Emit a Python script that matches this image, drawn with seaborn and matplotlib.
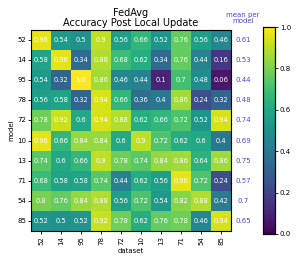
import numpy as np
import pandas as pd
import matplotlib
matplotlib.use('Agg')
import matplotlib.pyplot as plt
import seaborn as sns

# клиенты (модели и датасеты)
models = ['52', '14', '95', '78', '72', '10', '13', '71', '54', '85']
datasets = ['52', '14', '95', '78', '72', '10', '13', '71', '54', '85']

acc = [
    [0.96, 0.54, 0.5, 0.9, 0.56, 0.66, 0.52, 0.76, 0.56, 0.46],
    [0.58, 0.96, 0.34, 0.88, 0.68, 0.62, 0.34, 0.76, 0.44, 0.16],
    [0.54, 0.32, 1.0, 0.86, 0.46, 0.44, 0.1, 0.7, 0.48, 0.06],
    [0.56, 0.58, 0.32, 0.94, 0.66, 0.36, 0.4, 0.86, 0.24, 0.32],
    [0.78, 0.92, 0.6, 0.94, 0.88, 0.62, 0.66, 0.72, 0.52, 0.94],
    [0.96, 0.66, 0.84, 0.84, 0.6, 0.9, 0.72, 0.62, 0.6, 0.4],
    [0.74, 0.6, 0.66, 0.9, 0.78, 0.74, 0.84, 0.86, 0.64, 0.86],
    [0.68, 0.58, 0.58, 0.74, 0.44, 0.62, 0.56, 0.96, 0.72, 0.24],
    [0.8, 0.76, 0.84, 0.88, 0.56, 0.72, 0.54, 0.82, 0.88, 0.42],
    [0.52, 0.5, 0.52, 0.92, 0.78, 0.62, 0.76, 0.78, 0.46, 0.94],
]

df = pd.DataFrame(acc, index=models, columns=datasets)
vals = df.values
# среднее по модели без диагонали (свой датасет не считается)
row_means = (vals.sum(axis=1) - np.diag(vals)) / (vals.shape[1] - 1)
labels = np.vectorize(lambda v: str(round(v, 2)))(vals)

fig = plt.figure(figsize=(2.97, 2.63), dpi=100)
ax = fig.add_axes([31 / 297, 1 - 231 / 263, 200 / 297, 201 / 263])
cax = fig.add_axes([263 / 297, 1 - 234 / 263, 12 / 297, 207 / 263])

sns.heatmap(df, ax=ax, cbar_ax=cax, cmap='viridis', vmin=0, vmax=1,
            annot=labels, fmt='', annot_kws={'size': 4.8, 'color': 'white'},
            linewidths=0)
for s in ax.spines.values():
    s.set_visible(True)
    s.set_linewidth(0.8)

ax.set_title('FedAvg\nAccuracy Post Local Update', fontsize=7, pad=3, linespacing=1.0)
ax.set_xlabel('dataset', fontsize=5, labelpad=2)
ax.set_ylabel('model', fontsize=5, labelpad=2)
ax.tick_params(axis='both', labelsize=5, length=2, width=0.6, pad=1.5)
ax.set_xticklabels(datasets, rotation=90)
ax.set_yticklabels(models, rotation=0)

mean_color = '#4b4bd6'
for i, m in enumerate(row_means):
    ax.text(10.6, i + 0.5, str(round(m, 2)), ha='center', va='center',
            fontsize=5, color=mean_color)
ax.text(10.6, -0.3, 'mean per\nmodel', ha='center', va='bottom',
        fontsize=5, color=mean_color, linespacing=1.0)

cax.tick_params(labelsize=5, length=2, width=0.6, pad=1.5)
cax.set_yticks([0, 0.2, 0.4, 0.6, 0.8, 1.0])
for s in cax.spines.values():
    s.set_visible(True)
    s.set_linewidth(0.8)

fig.savefig('out.png', dpi=100)
